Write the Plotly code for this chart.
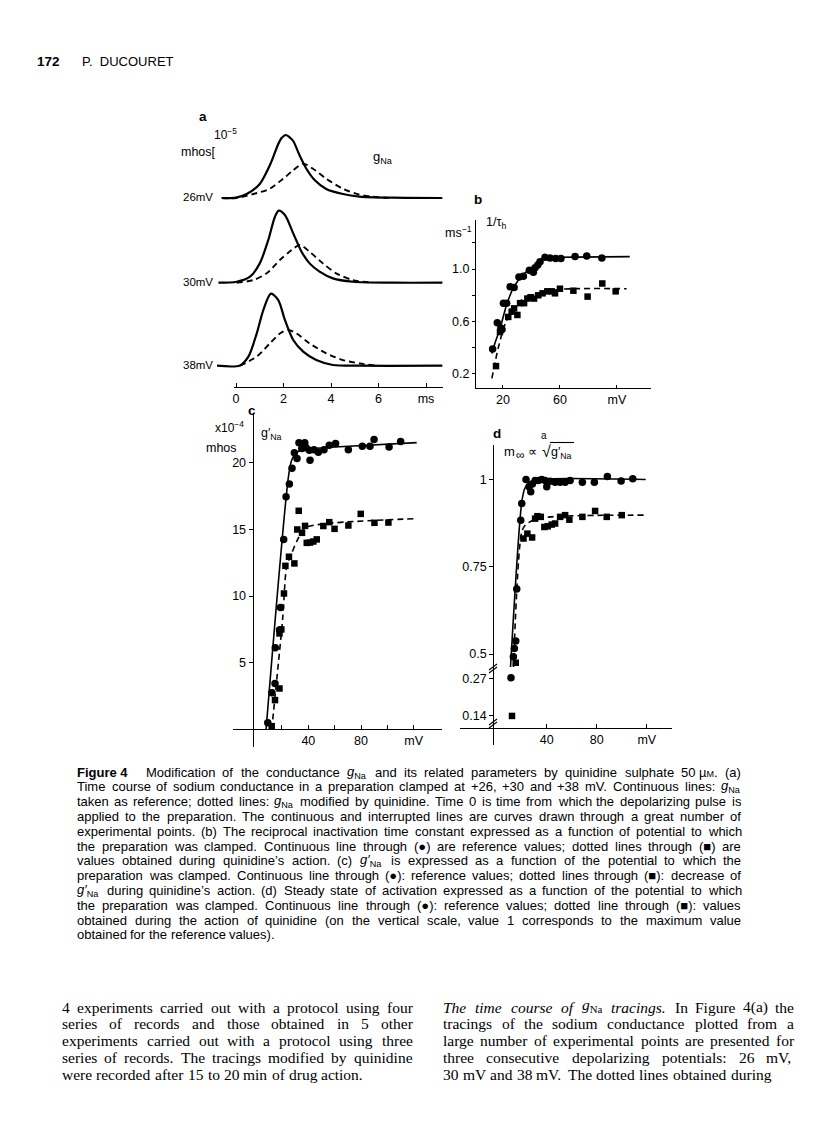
import re
import plotly.graph_objects as go

# The page body has an 8px margin, so the figure is sized to fill the window from there.
OFF = 8
W, H = 816 - OFF, 1141 - OFF
def fx(p): return (p - OFF) / W
def fy(p): return 1 - (p - OFF) / H

SANS = "Liberation Sans, Arial, sans-serif"
SERIF = "Liberation Serif, Times New Roman, serif"

# ---------------- data ----------------
# panel a : time (ms) and gNa (units of 1e-5 mhos)
t_26_ref = [-0.6, 0.0, 0.45, 1.0, 1.43, 1.78, 1.92, 2.1, 2.29, 2.41, 2.69, 2.97, 3.31, 3.8, 4.5, 5.2, 6.6, 8.7]
g_26_ref = [0, 0.03, 0.33, 1.17, 2.75, 4.5, 5.0, 5.25, 5.0, 4.75, 3.5, 2.42, 1.5, 0.75, 0.33, 0.12, 0.03, 0]
t_26_qui = [-0.6, 0.0, 0.73, 1.43, 1.99, 2.41, 2.83, 3.24, 3.8, 4.5, 5.2, 5.9, 6.6]
g_26_qui = [0, 0, 0.33, 0.78, 1.61, 2.31, 2.86, 2.44, 1.61, 0.78, 0.28, 0.08, 0]
t_30_ref = [-0.74, 0.03, 0.59, 1.0, 1.36, 1.64, 1.8, 2.06, 2.41, 2.76, 3.1, 3.52, 4.08, 4.92, 6.6, 8.7]
g_30_ref = [0, 0.08, 0.5, 1.61, 3.56, 5.5, 6.0, 5.64, 4.11, 2.58, 1.61, 0.92, 0.36, 0.08, 0, 0]
t_30_qui = [0.03, 0.73, 1.29, 1.85, 2.34, 2.69, 3.1, 3.66, 4.22, 4.92, 5.76]
g_30_qui = [0, 0.22, 0.78, 1.89, 2.72, 3.14, 2.58, 1.61, 0.78, 0.22, 0]
t_38_ref = [-0.81, 0.17, 0.52, 0.87, 1.15, 1.47, 1.78, 2.06, 2.41, 2.83, 3.38, 4.08, 5.2, 8.7]
g_38_ref = [0, 0.02, 0.75, 2.67, 4.64, 6.0, 5.47, 3.81, 2.14, 1.17, 0.47, 0.06, 0, 0]
t_38_qui = [0.17, 0.87, 1.43, 1.85, 2.2, 2.55, 3.1, 3.8, 4.5, 5.2, 5.9]
g_38_qui = [0, 0.75, 1.86, 2.69, 2.97, 2.69, 1.86, 1.03, 0.47, 0.19, 0]
a_time_ticks = [0, 2, 4, 6, 8]
a_time_text = ["0", "2", "4", "6", "ms"]
a_trace_labels = ["26mV", "30mV", "38mV"]

# panel b : 1/tau_h (ms^-1) vs potential (mV)
b_ref_mv = [12.7, 16.0, 18.5, 19.3, 20.3, 22.6, 25.0, 27.8, 31.2, 34.3, 38.5, 41.3, 42.5, 44.4, 46.0, 49.5, 53.0, 57.0, 60.7, 70.6, 78.8, 89.4]
b_ref_val = [0.39, 0.59, 0.55, 0.54, 0.74, 0.74, 0.865, 0.86, 0.94, 0.945, 0.99, 0.975, 1.01, 1.03, 1.055, 1.09, 1.085, 1.08, 1.08, 1.095, 1.10, 1.085]
b_qui_mv = [15.1, 17.9, 23.7, 26.1, 27.8, 30.1, 32.0, 34.8, 37.1, 39.4, 41.8, 44.8, 47.8, 51.1, 54.2, 56.5, 60.0, 69.4, 79.4, 89.7, 99.1]
b_qui_val = [0.26, 0.52, 0.635, 0.675, 0.70, 0.65, 0.74, 0.74, 0.775, 0.785, 0.775, 0.80, 0.815, 0.83, 0.83, 0.815, 0.85, 0.835, 0.79, 0.89, 0.83]
b_ref_fit_mv = [12.2, 14.5, 18.0, 22.6, 27.3, 34.3, 43.7, 49.5, 60.0, 109.0]
b_ref_fit_val = [0.356, 0.44, 0.55, 0.73, 0.857, 0.96, 1.03, 1.085, 1.09, 1.095]
b_qui_fit_mv = [12.2, 16.7, 21.4, 27.3, 36.6, 48.3, 60.0, 106.8]
b_qui_fit_val = [0.166, 0.40, 0.578, 0.70, 0.79, 0.82, 0.845, 0.85]
b_y_ticks = [0.2, 0.6, 1.0]
b_y_text = ["0.2", "0.6", "1.0"]
b_y_minor = [0.4, 0.8, 1.2]
b_x_ticks = [20, 60, 100]
b_x_text = ["20", "60", "mV"]

# panel c : g'Na (x1e-4 mhos) vs potential (mV)
c_ref_mv = [9.2, 12.4, 14.7, 14.9, 18.1, 18.9, 21.3, 23.1, 25.6, 27.6, 29.4, 31.4, 32.9, 35.0, 37.3, 38.3, 40.8, 41.3, 44.3, 47.6, 51.9, 55.9, 60.7, 70.4, 81.0, 86.8, 89.9, 101.3, 110.1]
c_ref_val = [0.51, 2.76, 3.46, 6.12, 7.45, 9.15, 14.24, 17.43, 18.38, 19.57, 20.72, 20.3, 21.47, 21.04, 21.47, 21.1, 20.92, 20.17, 20.94, 20.77, 20.94, 21.29, 21.42, 20.94, 21.22, 21.22, 21.72, 21.16, 21.56]
c_qui_mv = [12.2, 14.7, 18.1, 18.1, 19.5, 21.5, 22.6, 25.3, 29.4, 31.6, 32.7, 35.2, 37.5, 38.8, 41.3, 43.8, 46.4, 51.4, 55.9, 59.9, 70.4, 79.8, 90.2, 100.8]
c_qui_val = [0.26, 2.21, 3.08, 7.2, 7.5, 10.19, 12.26, 12.94, 12.44, 14.98, 16.38, 14.73, 15.25, 13.98, 14.0, 14.08, 14.24, 15.24, 15.53, 15.03, 15.28, 16.15, 15.48, 15.5]
c_ref_fit_mv = [7.9, 25.0, 27.5, 32.0, 40.0, 60.0, 122.3]
c_ref_fit_val = [0.0, 19.0, 20.2, 20.8, 21.0, 21.15, 21.48]
c_qui_fit_mv = [12.2, 20.5, 23.6, 27.4, 31.2, 37.5, 51.4, 122.3]
c_qui_fit_val = [0.0, 8.3, 12.2, 13.2, 14.1, 15.1, 15.4, 15.8]
c_y_ticks = [5, 10, 15, 20]
c_x_ticks = [40, 80, 120]
c_x_text = ["40", "80", "mV"]
c_x_minor = [20, 60, 100]

# panel d : m_inf (relative) vs potential (mV); values below the axis break kept separately
d_ref_mv = [13.3, 14.1, 15.2, 16.0, 19.2, 20.0, 23.4, 25.8, 27.2, 28.5, 30.7, 33.3, 36.0, 38.7, 40.0, 42.7, 46.7, 50.7, 54.7, 58.7, 68.5, 78.1, 88.5, 99.5, 108.8]
d_ref_val = [0.492, 0.516, 0.537, 0.686, 0.883, 0.931, 1.0, 0.979, 0.965, 0.987, 0.997, 0.997, 1.0, 0.997, 0.979, 0.995, 0.992, 0.992, 0.992, 0.997, 0.992, 0.992, 1.009, 0.996, 1.002]
d_qui_mv = [15.2, 21.4, 24.5, 28.3, 30.7, 32.5, 35.2, 38.1, 40.8, 44.0, 46.7, 50.7, 54.7, 58.1, 68.5, 78.7, 88.0, 100.0]
d_qui_val = [0.475, 0.831, 0.845, 0.834, 0.888, 0.895, 0.893, 0.864, 0.866, 0.871, 0.874, 0.893, 0.898, 0.885, 0.893, 0.91, 0.893, 0.898]
d_ref_low_mv = [11.4]
d_ref_low_val = [0.272]
d_qui_low_mv = [12.2]
d_qui_low_val = [0.1375]
d_ref_fit_mv = [10.9, 20.0, 22.5, 26.0, 32.0, 119.2]
d_ref_fit_val = [0.455, 0.935, 0.975, 0.992, 1.0, 1.0]
d_qui_fit_mv = [13.3, 20.0, 23.0, 29.3, 42.7, 119.2]
d_qui_fit_val = [0.455, 0.85, 0.87, 0.883, 0.893, 0.898]
d_y_ticks = [0.5, 0.75, 1.0]
d_y_text = ["0.5", "0.75", "1"]
d_y_low_ticks = [0.14, 0.27]
d_y_low_text = ["0.14", "0.27"]
d_x_ticks = [40, 80, 120]
d_x_text = ["40", "80", "mV"]

# page texts (each word carries its own markup so lines can be justified word by word)
caption_lines = [
    "<b>Figure\u00a04</b>\u00a0\u00a0\u00a0 Modification of the conductance <i>g</i><sub>Na</sub> and its related parameters by quinidine sulphate 50\u00a0µ<span style='font-size:9px'>M</span>. (a)",
    "Time course of sodium conductance in a preparation clamped at +26, +30 and +38 mV. Continuous lines: <i>g</i><sub>Na</sub>",
    "taken as reference; dotted lines: <i>g</i><sub>Na</sub> modified by quinidine. Time 0 is time from which the depolarizing pulse is",
    "applied to the preparation. The continuous and interrupted lines are curves drawn through a great number of",
    "experimental points. (b) The reciprocal inactivation time constant expressed as a function of potential to which",
    "the preparation was clamped. Continuous line through (●) are reference values; dotted lines through (■) are",
    "values obtained during quinidine’s action. (c) <i>g′</i><sub>Na</sub> is expressed as a function of the potential to which the",
    "preparation was clamped. Continuous line through (●): reference values; dotted lines through (■): decrease of",
    "<i>g′</i><sub>Na</sub> during quinidine’s action. (d) Steady state of activation expressed as a function of the potential to which",
    "the preparation was clamped. Continuous line through (●): reference values; dotted line through (■): values",
    "obtained during the action of quinidine (on the vertical scale, value 1 corresponds to the maximum value",
    "obtained for the reference values).",
]
left_col = [
    "4 experiments carried out with a protocol using four",
    "series of records and those obtained in 5 other",
    "experiments carried out with a protocol using three",
    "series of records. The tracings modified by quinidine",
    "were recorded after 15 to 20 min of drug action.",
]
right_col = [
    "<i>The</i> <i>time</i> <i>course</i> <i>of</i> <i>g</i><sub>Na</sub> <i>tracings.</i> In Figure 4(a) the",
    "tracings of the sodium conductance plotted from a",
    "large number of experimental points are presented for",
    "three consecutive depolarizing potentials: 26 mV,",
    "30 mV and 38 mV. The dotted lines obtained during",
]

# ---------------- approximate font metrics (1/1000 em) for justification ----------------
def _tab(s, w):
    return {c: w for c in s}
ARIAL = {}
ARIAL.update(_tab(" !,./:;\u00a0ftI", 278)); ARIAL.update(_tab("ijl", 222)); ARIAL.update(_tab("0123456789abdeghnopquµ?$#", 556))
ARIAL.update(_tab("ckszvxyJ", 500)); ARIAL.update(_tab("r()-", 333)); ARIAL.update(_tab("mM", 833)); ARIAL.update(_tab("w", 722))
ARIAL.update(_tab("ABEKPSVXY", 667)); ARIAL.update(_tab("CDHNRU", 722)); ARIAL.update(_tab("GOQ", 778)); ARIAL.update(_tab("FTZ", 611))
ARIAL.update({"L": 556, "W": 944, "+": 584, "’": 222, "'": 191, "′": 260, "●": 600, "■": 600})
ARIAL_B = dict(ARIAL); ARIAL_B.update({"g": 611, "u": 611, "r": 389, "i": 278})
TIMES = {}
TIMES.update(_tab(" .,\u00a0", 250)); TIMES.update(_tab("ace", 444)); TIMES.update(_tab("0123456789bdghnopquvxy", 500))
TIMES.update(_tab("fr()", 333)); TIMES.update(_tab("ijlt:", 278)); TIMES.update({"k": 500, "m": 778, "s": 389, "w": 722, "z": 444,
              "T": 611, "F": 556, "V": 722, "I": 333, "N": 722, "a": 444})
TIMES_I = dict(TIMES); TIMES_I.update({"a": 500, "f": 278, "m": 722, "r": 389, "T": 556})

def text_width(s, size, serif=False):
    bold = italic = False
    scale, span = 1.0, None
    total = 0.0
    for tok in re.split(r"(<[^>]+>)", s):
        if tok.startswith("<"):
            t = tok.lower()
            if t == "<b>": bold = True
            elif t == "</b>": bold = False
            elif t == "<i>": italic = True
            elif t == "</i>": italic = False
            elif t in ("<sub>", "<sup>"): scale = 0.7
            elif t in ("</sub>", "</sup>"): scale = 1.0
            elif t.startswith("<span"):
                m = re.search(r"font-size:\s*([\d.]+)px", t)
                span = float(m.group(1)) if m else None
            elif t == "</span>": span = None
            continue
        tab = (TIMES_I if italic else TIMES) if serif else (ARIAL_B if bold else ARIAL)
        for ch in tok:
            total += tab.get(ch, 520) / 1000.0 * (span or size) * scale
    pad = 1.5 if ("<sub>" in s or "<i>" in s) else 0.0
    return total * (1.015 if serif else 1.0) + pad

# ---------------- figure ----------------
fig = go.Figure()
K = "black"

def line(x, y, xa, ya, dash=None, w=1.6):
    fig.add_trace(go.Scatter(x=x, y=y, xaxis=xa, yaxis=ya, mode="lines",
                             line=dict(color=K, width=w, dash=dash or "solid", shape="spline", smoothing=0.8),
                             hoverinfo="skip", showlegend=False))

def pts(x, y, xa, ya, sym, size):
    fig.add_trace(go.Scatter(x=x, y=y, xaxis=xa, yaxis=ya, mode="markers",
                             marker=dict(color=K, symbol=sym, size=size, line=dict(width=0)),
                             cliponaxis=False, hoverinfo="skip", showlegend=False))

DASH = "6px,4px"
# panel a
line(t_26_ref, g_26_ref, "x", "y", w=2.2)
line(t_26_qui, g_26_qui, "x", "y", dash=DASH, w=1.9)
line(t_30_ref, g_30_ref, "x", "y2", w=2.2)
line(t_30_qui, g_30_qui, "x", "y2", dash=DASH, w=1.9)
line(t_38_ref, g_38_ref, "x", "y3", w=2.2)
line(t_38_qui, g_38_qui, "x", "y3", dash=DASH, w=1.9)
fig.add_trace(go.Scatter(x=[0], y=[None], xaxis="x2", yaxis="y3", mode="lines", showlegend=False, hoverinfo="skip"))
# panel b
line(b_ref_fit_mv, b_ref_fit_val, "x3", "y4")
line(b_qui_fit_mv, b_qui_fit_val, "x3", "y4", dash=DASH)
pts(b_ref_mv, b_ref_val, "x3", "y4", "circle", 7.5)
pts(b_qui_mv, b_qui_val, "x3", "y4", "square", 6.5)
# panel c
line(c_ref_fit_mv, c_ref_fit_val, "x4", "y5")
line(c_qui_fit_mv, c_qui_fit_val, "x4", "y5", dash=DASH)
pts(c_ref_mv, c_ref_val, "x4", "y5", "circle", 7.5)
pts(c_qui_mv, c_qui_val, "x4", "y5", "square", 6.5)
# panel d
line(d_ref_fit_mv, d_ref_fit_val, "x5", "y6")
line(d_qui_fit_mv, d_qui_fit_val, "x5", "y6", dash=DASH)
pts(d_ref_mv, d_ref_val, "x5", "y6", "circle", 7.5)
pts(d_qui_mv, d_qui_val, "x5", "y6", "square", 6.5)
pts(d_ref_low_mv, d_ref_low_val, "x5", "y7", "circle", 7.5)
pts(d_qui_low_mv, d_qui_low_val, "x5", "y7", "square", 6.5)

TF = dict(family=SANS, size=12.5, color=K)
hidden = dict(visible=False, showgrid=False, zeroline=False)
def axis(**kw):
    base = dict(showgrid=False, zeroline=False, showline=True, linecolor=K, linewidth=1.3,
                ticks="outside", ticklen=4, tickwidth=1.2, tickcolor=K, tickfont=TF, tickmode="array")
    base.update(kw)
    return base

def ydom(base_px):
    return [fy(base_px + 0.3 * 12), fy(base_px - 6.4 * 12)]

A_BASE = [198, 282.7, 365.7]
fig.update_layout(
    width=W, height=H, margin=dict(l=0, r=0, t=0, b=0),
    paper_bgcolor="white", plot_bgcolor="rgba(0,0,0,0)", showlegend=False,
    xaxis=dict(hidden, domain=[fx(217), fx(442.6)], range=[-0.8, 8.7], anchor="y"),
    yaxis=dict(hidden, domain=ydom(A_BASE[0]), range=[-0.3, 6.4], anchor="x"),
    yaxis2=dict(hidden, domain=ydom(A_BASE[1]), range=[-0.3, 6.4], anchor="x"),
    yaxis3=dict(hidden, domain=ydom(A_BASE[2]), range=[-0.3, 6.4], anchor="x"),
    xaxis2=axis(domain=[fx(234), fx(443)], range=[-0.084, 8.716], anchor="free", position=fy(387),
                tickvals=a_time_ticks, ticktext=a_time_text, ticks="inside", ticklen=4),
    xaxis3=axis(domain=[fx(476), fx(651)], range=[1.05, 123.9], anchor="y4",
                tickvals=b_x_ticks, ticktext=b_x_text, ticks="inside", ticklen=3),
    yaxis4=axis(domain=[fy(388), fy(220)], range=[0.093, 1.374], anchor="x3",
                tickvals=b_y_ticks, ticktext=b_y_text, ticklen=3,
                minor=dict(tickvals=b_y_minor, ticks="outside", ticklen=3, tickwidth=1.2, tickcolor=K)),
    xaxis4=axis(domain=[fx(233), fx(442)], range=[-17.2, 141.5], anchor="free", position=fy(729.3),
                tickvals=c_x_ticks, ticktext=c_x_text, ticks="inside", ticklen=4,
                minor=dict(tickvals=c_x_minor, ticks="inside", ticklen=4, tickwidth=1.2, tickcolor=K)),
    yaxis5=axis(domain=[fy(747), fy(413)], range=[-1.3, 23.7], anchor="free", position=fx(252.7),
                tickvals=c_y_ticks, ticktext=[str(v) for v in c_y_ticks]),
    xaxis5=axis(domain=[fx(460), fx(672)], range=[-29.4, 140.2], anchor="free", position=fy(728.3),
                tickvals=d_x_ticks, ticktext=d_x_text, ticks="inside", ticklen=4),
    yaxis6=axis(domain=[fy(667), fy(445)], range=[0.4628, 1.099], anchor="free", position=fx(493.3),
                tickvals=d_y_ticks, ticktext=d_y_text),
    yaxis7=axis(domain=[fy(745), fy(667)], range=[0.035, 0.31], anchor="free", position=fx(493.3),
                tickvals=d_y_low_ticks, ticktext=d_y_low_text),
)

ann = []
def T(x, y, text, size=12.5, xa="left", family=SANS, ya="middle"):
    ann.append(dict(x=fx(x), y=fy(y), xref="paper", yref="paper", text=text, showarrow=False,
                    xanchor=xa, yanchor=ya, borderpad=0, borderwidth=0,
                    font=dict(size=size, family=family, color=K)))

def justified(lines, x0, x1, y0, dy, size, serif=False):
    fam = SERIF if serif else SANS
    space = (250 if serif else 278) / 1000.0 * size
    for li, s in enumerate(lines):
        words = re.split(r" (?![^<]*>)", s)
        widths = [text_width(w, size, serif) for w in words]
        last = li == len(lines) - 1
        gap = space if (last or len(words) < 2) else (x1 - x0 - sum(widths)) / (len(words) - 1)
        x = x0
        for w, wd in zip(words, widths):
            lift = 2.0 if (serif and "<sub>" in w) else 0.0   # keep body-text subscripts clear of the next line
            T(x, y0 + dy * li - lift, w, size=size, family=fam)
            x += wd + gap

# header
T(37, 62, "<b>172</b>", size=13.5)
T(82, 62, "P.\u00a0\u00a0DUCOURET", size=13)
# panel a
T(203, 117, "<b>a</b>", size=13.5, xa="center")
T(214, 134, "10<sup>−5</sup>", size=12)
T(181, 152, "mhos[", size=12.5)
T(373, 158, "g<sub>Na</sub>", size=13)
for lab, base in zip(a_trace_labels, A_BASE):
    T(213, base - 1, lab, size=11.5, xa="right")
# panel b
T(478, 200, "<b>b</b>", size=13.5, xa="center")
T(445, 232, "ms<sup>−1</sup>", size=12.5)
T(486, 223, "1/τ<sub>h</sub>", size=12.5)
# panel c
T(252, 410, "<b>c</b>", size=13.5, xa="center")
T(215, 427, "x10<sup>−4</sup>", size=12)
T(206, 448, "mhos", size=12.5)
T(261, 434, "g′<sub>Na</sub>", size=12.5)
# panel d
T(497, 433, "<b>d</b>", size=13.5, xa="center")
T(504, 451, "m", size=13)
T(516, 455, "∞", size=12)
T(528, 451, "∝", size=13)
T(544, 435, "a", size=10, xa="center")
T(546, 451, "√", size=16, xa="center")
T(551, 453, "g′<sub>Na</sub>", size=12.5)
# caption and body text
justified(caption_lines, 77, 741, 772, 14.8, 13)
justified(left_col, 62, 413, 1007, 16.8, 15.5, serif=True)
justified(right_col, 443, 794, 1007, 16.8, 15.5, serif=True)

shapes = []
def seg(x0, y0, x1, y1, w=1.1):
    shapes.append(dict(type="line", xref="paper", yref="paper", x0=fx(x0), y0=fy(y0), x1=fx(x1), y1=fy(y1),
                       line=dict(color=K, width=w)))
seg(550, 442.5, 574, 442.5)          # radical bar in panel d title
for by in (667, 722):                # axis-break marks on panel d vertical axis
    seg(489, by + 3, 497, by - 3)
    seg(489, by + 6, 497, by)

fig.update_layout(annotations=ann, shapes=shapes)
fig.write_html("out.html")
